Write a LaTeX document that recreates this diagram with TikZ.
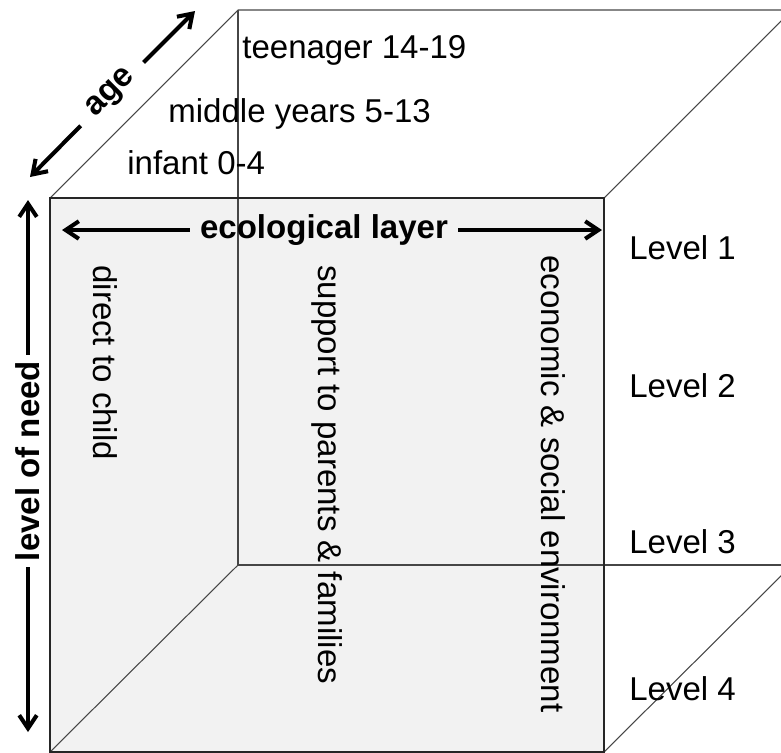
\documentclass[tikz,border=0pt]{standalone}
\usepackage{fontspec}
\setmainfont{Liberation Sans}
\usetikzlibrary{arrows.meta}
\definecolor{face}{RGB}{242, 242, 242}
\definecolor{edgegray}{RGB}{70, 70, 70}

\begin{document}
\begin{tikzpicture}[
            x=0.02cm, y=-0.02cm,
            txt/.style={font=\fontsize{18.8}{22}\selectfont, inner sep=0pt},
            heading/.style={font=\fontsize{18.8}{22}\selectfont\bfseries, inner ysep=0pt},
            backedge/.style={edgegray, line width=0.6pt},
            frontedge/.style={black!85, line width=1pt},
            arrow/.style={-{Straight Barb[length=7.5pt, width=10pt]}, line width=2.3pt}
        ]
            \useasboundingbox (0,0) rectangle (781,752);
            \clip (0,0) rectangle (781,752);

            % Cube corners
            \coordinate (f1) at (50,198);
            \coordinate (f2) at (604,198);
            \coordinate (f3) at (604,752);
            \coordinate (f4) at (50,752);
            \coordinate (b1) at (238,10);
            \coordinate (b2) at (792,10);
            \coordinate (b3) at (792,565);
            \coordinate (b4) at (238,565);

            % Cube
            \fill[face] (f1) rectangle (f3);
            \draw[backedge] (f1) -- (b1) -- (b2);
            \draw[backedge] (b1) -- (b4) -- (b3);
            \draw[backedge] (f2) -- (b2);
            \draw[backedge] (f3) -- (b3);
            \draw[backedge] (f4) -- (b4);
            \draw[frontedge] (f1) rectangle (f3);

            % Nodes
            \node[txt, anchor=base west] (teen) at (242,58) {teenager 14-19};
            \node[txt, anchor=base west] (middle) at (168,122) {middle years 5-13};
            \node[txt, anchor=base west] (infant) at (127,174) {infant 0-4};

            \node[txt, rotate=-90, anchor=base west] (direct) at (93,265) {direct to child};
            \node[txt, rotate=-90, anchor=base west] (support) at (318,265) {support to parents \& families};
            \node[txt, rotate=-90, anchor=base west] (econ) at (541,255) {economic \& social environment};

            \node[txt, anchor=base west] (lvl1) at (629,259) {Level 1};
            \node[txt, anchor=base west] (lvl2) at (629,397) {Level 2};
            \node[txt, anchor=base west] (lvl3) at (629,553) {Level 3};
            \node[txt, anchor=base west] (lvl4) at (629,700) {Level 4};

            \node[heading, inner xsep=5.7pt] (eco) at (324,230) {ecological layer};
            \node[heading, rotate=90, inner xsep=3.4pt] (need) at (28,461) {level of need};
            \node[heading, rotate=45, inner xsep=9pt] (age) at (112,94) {age};

            \coordinate (eco-w) at (62,230);
            \coordinate (eco-e) at (602,230);
            \coordinate (need-n) at (28,200);
            \coordinate (need-s) at (28,732);
            \coordinate (age-lo) at (30,177);
            \coordinate (age-hi) at (195,11);

            % Arrows
            \draw[arrow] (eco) -- (eco-w);
            \draw[arrow] (eco) -- (eco-e);
            \draw[arrow] (need) -- (need-n);
            \draw[arrow] (need) -- (need-s);
            \draw[arrow] (age) -- (age-lo);
            \draw[arrow] (age) -- (age-hi);
        \end{tikzpicture}
\end{document}
